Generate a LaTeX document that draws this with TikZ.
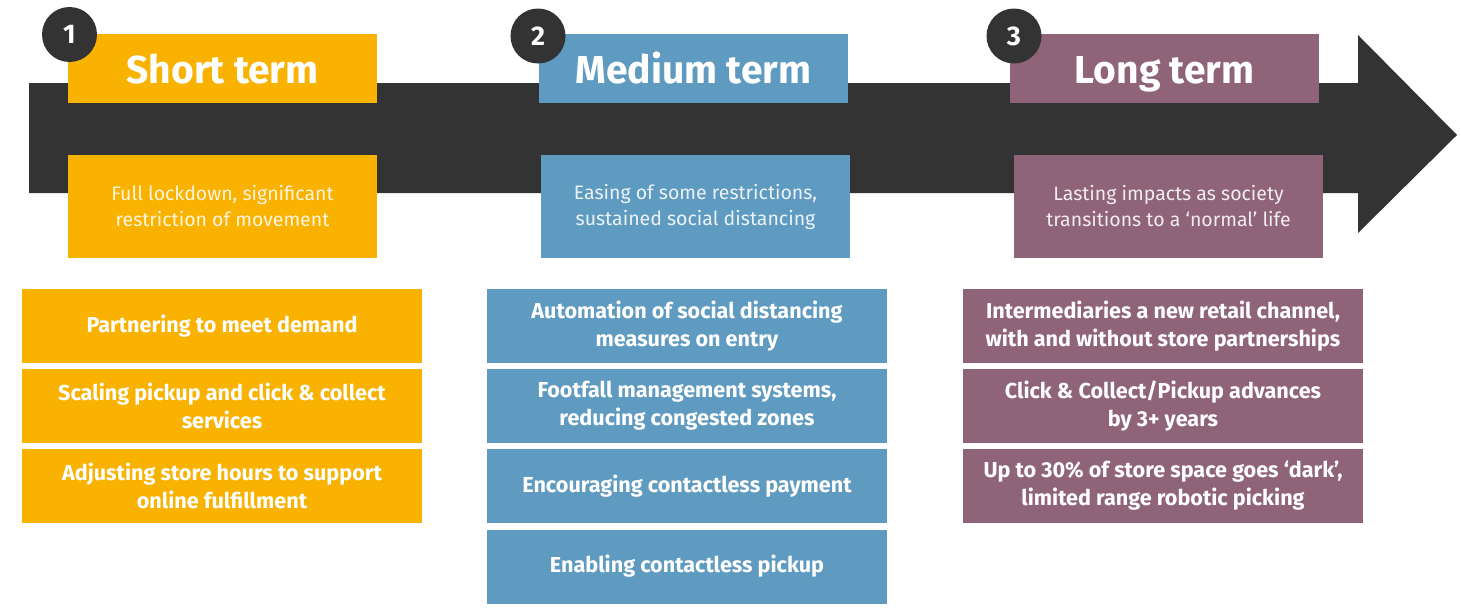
\documentclass[tikz,border=0pt]{standalone}
\usepackage{fontspec}
\setmainfont{Fira Sans}
\definecolor{shaft}{HTML}{333333}
\definecolor{shortc}{HTML}{F9B200}
\definecolor{mediumc}{HTML}{5F9BC0}
\definecolor{longc}{HTML}{8F6479}
\begin{document}
\begin{tikzpicture}[x=1pt,y=-1pt,
  headbox/.style={rectangle, inner sep=0pt, minimum width=309pt, minimum height=69pt,
    text height=29pt, text depth=0pt,
    text=white, font=\fontsize{39}{44}\selectfont\bfseries},
  descbox/.style={rectangle, inner sep=0pt, minimum width=309pt, minimum height=103pt,
    text=white, text opacity=0.88, align=center, font=\fontsize{19.5}{26}\selectfont},
  itembox/.style={rectangle, inner sep=0pt, minimum width=400pt, minimum height=74pt,
    text=white, align=center, font=\fontsize{21.6}{28}\selectfont\bfseries},
  numdot/.style={circle, fill=shaft, inner sep=0pt, minimum size=55pt,
    text=white, font=\fontsize{27}{30}\selectfont\bfseries}]
\useasboundingbox (0,0) rectangle (1461,608);

% timeline arrow
\fill[shaft] (29,83) -- (1358,83) -- (1358,35) -- (1457,135) -- (1358,233)
  -- (1358,193) -- (29,193) -- cycle;

% phase headings and descriptions
\node[headbox, fill=shortc]  (h1) at (222.5,68.5) {Short term};
\node[headbox, fill=mediumc] (h2) at (693.5,68.5) {Medium term};
\node[headbox, fill=longc]   (h3) at (1164.5,68.5) {Long term};

\node[descbox, fill=shortc]  (d1) at (222.5,206.5) {Full lockdown, significant\\restriction of movement};
\node[descbox, fill=mediumc] (d2) at (695.5,206.5) {Easing of some restrictions,\\sustained social distancing};
\node[descbox, fill=longc]   (d3) at (1168.5,206.5) {Lasting impacts as society\\transitions to a ‘normal’ life};

% step numbers
\node[numdot] (n1) at (69.5,34.5) {1};
\node[numdot] (n2) at (538,36) {2};
\node[numdot] (n3) at (1014,36) {3};

% short-term actions
\node[itembox, fill=shortc] (s1) at (222,326) {Partnering to meet demand};
\node[itembox, fill=shortc] (s2) at (222,406) {Scaling pickup and click \& collect\\services};
\node[itembox, fill=shortc] (s3) at (222,486) {Adjusting store hours to support\\online fulfillment};

% medium-term actions
\node[itembox, fill=mediumc] (m1) at (687,326) {Automation of social distancing\\measures on entry};
\node[itembox, fill=mediumc] (m2) at (687,406) {Footfall management systems,\\reducing congested zones};
\node[itembox, fill=mediumc] (m3) at (687,486) {Encouraging contactless payment};
\node[itembox, fill=mediumc] (m4) at (687,566.5) {Enabling contactless pickup};

% long-term actions
\node[itembox, fill=longc] (l1) at (1163,326) {Intermediaries a new retail channel,\\with and without store partnerships};
\node[itembox, fill=longc] (l2) at (1163,406) {Click \& Collect/Pickup advances\\by 3+ years};
\node[itembox, fill=longc] (l3) at (1163,486) {Up to 30\% of store space goes ‘dark’,\\limited range robotic picking};
\end{tikzpicture}
\end{document}
